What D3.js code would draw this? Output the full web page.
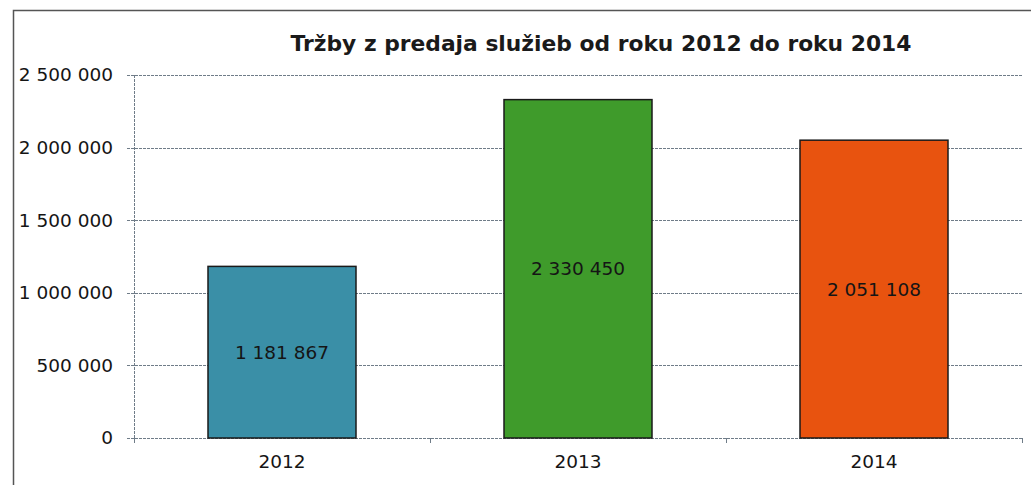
<!DOCTYPE html>
<html>
<head>
<meta charset="utf-8">
<script src="https://cdn.jsdelivr.net/npm/d3@7"></script>
<style>
  body { margin: 0; background: #fff; }
  svg { display: block; font-family: "DejaVu Sans", Verdana, sans-serif; }
</style>
</head>
<body>
<svg id="chart"></svg>
<script>
// data
const years = ["2012", "2013", "2014"]
const revenue = [1181867, 2330450, 2051108]
const barColors = ["#3a8fa7", "#3f9b2b", "#e8530f"]
const yTicks = [0, 500000, 1000000, 1500000, 2000000, 2500000]
const title = "Tržby z predaja služieb od roku 2012 do roku 2014"

const width = 1031, height = 485
const margin = { top: 75, right: 9, bottom: 47, left: 134 }

const svg = d3.select("#chart")
    .attr("width", width)
    .attr("height", height)

// frame (scanned border, left + top)
svg.append("path")
    .attr("d", `M13.5,${height} V10.5 H${width}`)
    .attr("fill", "none")
    .attr("stroke", "#555")
    .attr("stroke-width", 1.5)

const fmt = v => d3.format(",")(v).replace(/,/g, " ")

const x = d3.scaleBand()
    .domain(years)
    .range([margin.left, width - margin.right])
    .paddingInner(0.5)
    .paddingOuter(0.25)

const y = d3.scaleLinear()
    .domain([0, 2500000])
    .range([height - margin.bottom, margin.top])

// gridlines
svg.append("g")
    .selectAll("line")
    .data(yTicks)
    .join("line")
    .attr("x1", margin.left - 7)
    .attr("x2", width - margin.right)
    .attr("y1", d => Math.round(y(d)) + 0.5)
    .attr("y2", d => Math.round(y(d)) + 0.5)
    .attr("stroke", "#6f7c88")
    .attr("stroke-dasharray", "3,1")

// y axis line
svg.append("line")
    .attr("x1", margin.left + 0.5).attr("x2", margin.left + 0.5)
    .attr("y1", y(2500000)).attr("y2", y(0) + 4)
    .attr("stroke", "#6f7c88")
    .attr("stroke-dasharray", "3,1")

// y tick labels
svg.append("g")
    .selectAll("text")
    .data(yTicks)
    .join("text")
    .attr("x", 113)
    .attr("y", d => y(d))
    .attr("dy", "0.35em")
    .attr("text-anchor", "end")
    .attr("font-size", 18.5)
    .attr("fill", "#151515")
    .text(d => fmt(d))

// x axis category boundary ticks
const bounds = d3.range(years.length + 1).map(i => margin.left + i * (width - margin.right - margin.left) / years.length)
svg.append("g")
    .selectAll("line")
    .data(bounds)
    .join("line")
    .attr("x1", d => Math.round(d) + 0.5)
    .attr("x2", d => Math.round(d) + 0.5)
    .attr("y1", y(0))
    .attr("y2", y(0) + 5)
    .attr("stroke", "#6f7c88")

// bars
svg.append("g")
    .selectAll("rect")
    .data(revenue)
    .join("rect")
    .attr("x", (d, i) => x(years[i]))
    .attr("y", d => y(d))
    .attr("width", x.bandwidth())
    .attr("height", d => y(0) - y(d))
    .attr("fill", (d, i) => barColors[i])
    .attr("stroke", "#1a1a1a")
    .attr("stroke-width", 1.5)

// value labels
svg.append("g")
    .selectAll("text")
    .data(revenue)
    .join("text")
    .attr("x", (d, i) => x(years[i]) + x.bandwidth() / 2)
    .attr("y", d => (y(d) + y(0)) / 2)
    .attr("dy", "0.35em")
    .attr("text-anchor", "middle")
    .attr("font-size", 18.5)
    .attr("fill", "#151515")
    .text(d => fmt(d))

// x labels
svg.append("g")
    .selectAll("text")
    .data(years)
    .join("text")
    .attr("x", d => x(d) + x.bandwidth() / 2)
    .attr("y", y(0) + 24)
    .attr("dy", "0.35em")
    .attr("text-anchor", "middle")
    .attr("font-size", 18.5)
    .attr("fill", "#151515")
    .text(d => d)

// title
svg.append("text")
    .attr("x", 601)
    .attr("y", 43)
    .attr("dy", "0.35em")
    .attr("text-anchor", "middle")
    .attr("font-size", 21.8)
    .attr("font-weight", "bold")
    .attr("fill", "#1a1a1a")
    .text(title)
</script>
</body>
</html>
